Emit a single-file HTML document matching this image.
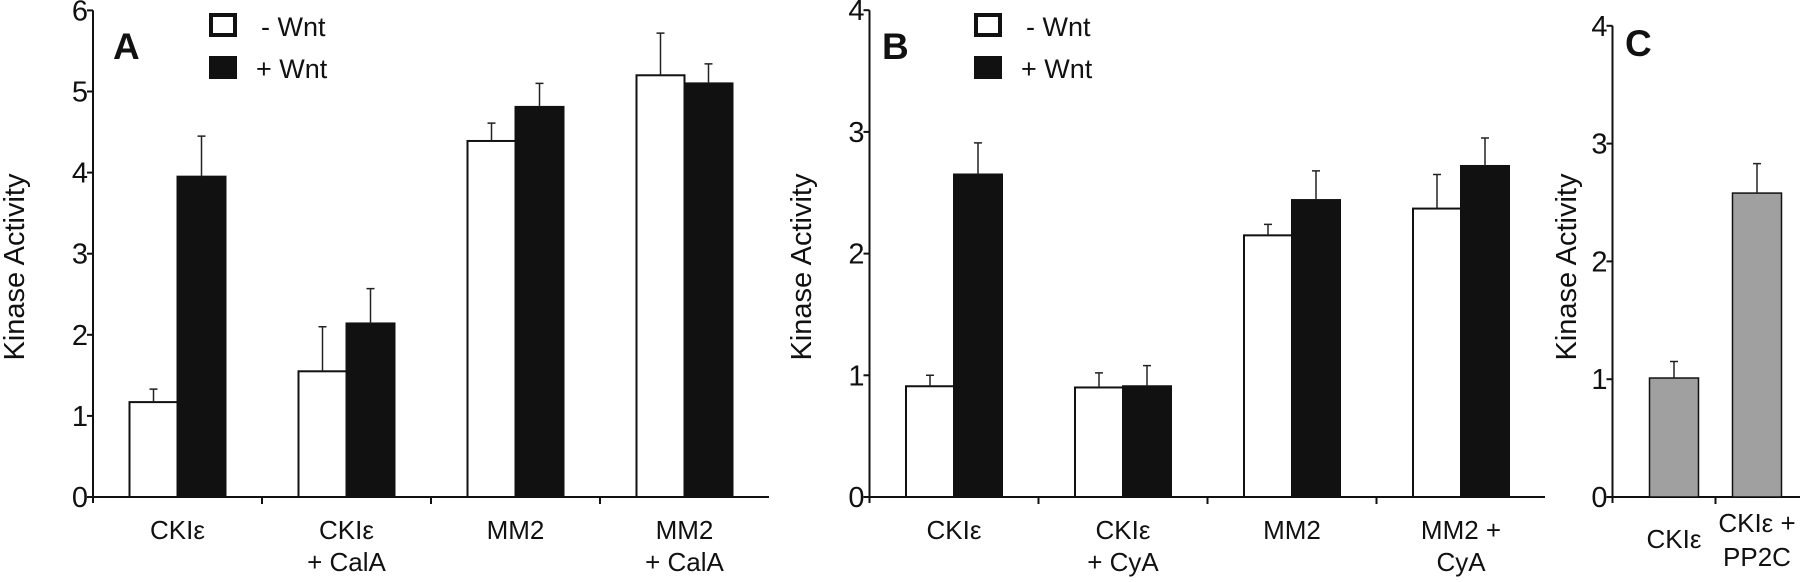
<!DOCTYPE html>
<html><head><meta charset="utf-8"><style>
body{margin:0;background:#fff;}
svg{display:block;font-family:"Liberation Sans",Arial,sans-serif;}
</style></head><body>
<svg id="fig" width="1800" height="582" viewBox="0 0 1800 582"></svg>
<script>
const catsA = ["CKIε|", "CKIε|+ CalA", "MM2|", "MM2|+ CalA"];
const minusA = [1.17, 1.55, 4.39, 5.2];
const minusErrA = [0.16, 0.55, 0.22, 0.52];
const plusA = [3.95, 2.14, 4.81, 5.10];
const plusErrA = [0.50, 0.43, 0.29, 0.24];
const ticksA = [0,1,2,3,4,5,6];

const catsB = ["CKIε|", "CKIε|+ CyA", "MM2|", "MM2 +|CyA"];
const minusB = [0.91, 0.90, 2.15, 2.37];
const minusErrB = [0.09, 0.12, 0.09, 0.28];
const plusB = [2.65, 0.91, 2.44, 2.72];
const plusErrB = [0.26, 0.17, 0.24, 0.23];
const ticksB = [0,1,2,3,4];

const catsC = ["CKIε|", "CKIε +|PP2C"];
const valsC = [1.01, 2.58];
const errC = [0.14, 0.25];
const ticksC = [0,1,2,3,4];

const NS = "http://www.w3.org/2000/svg";
const svg = document.getElementById('fig');
function mk(tag, attrs, parent, text){
  const e = document.createElementNS(NS, tag);
  for (const k in attrs) e.setAttribute(k, attrs[k]);
  if (text !== undefined) e.textContent = text;
  (parent||svg).appendChild(e);
  return e;
}

function panel(o){
  const g = mk('g', {});
  
  
  const y = v => o.y0 - v * o.unit;
  const ya = mk('line', {x1:o.x0, y1:y(o.ticks[o.ticks.length-1]), x2:o.x0, y2:o.y0+6, stroke:'#111','stroke-width':2}, g);
  
  
  o.ticks.forEach(t => {
    mk('line', {x1:o.x0-6, y1:y(t), x2:o.x0, y2:y(t), stroke:'#111','stroke-width':2}, g);
    const tl = mk('text', {x:o.x0-5, y:y(t)+10, 'text-anchor':'end','font-size':29,fill:'#111'}, g, String(t));
    
    
  });
  const xa = mk('line', {x1:o.x0, y1:o.y0, x2:o.xEnd, y2:o.y0, stroke:'#111','stroke-width':2}, g);
  
  
  for (let i=1;i<o.cats.length;i++){
    const tx = o.x0 + o.band*i + (o.tickOff||0);
    mk('line', {x1:tx, y1:o.y0, x2:tx, y2:o.y0+7, stroke:'#111','stroke-width':2}, g);
  }
  const at = mk('text', {x:o.titleX, y:o.y0-230, transform:`rotate(-90 ${o.titleX} ${o.y0-230})`, 'text-anchor':'middle','font-size':29,fill:'#111'}, g, 'Kinase Activity');
  
  
  o.cats.forEach((c, i) => {
    const cx = o.x0 + (o.barStart||0) + o.band*(i+0.5);
    o.series.forEach((s, si) => {
      const bx = o.series.length === 1 ? cx - o.bw/2 : cx - o.bw + si*o.bw;
      const v = s.vals[i];
      const r = mk('rect', {x:bx, y:y(v), width:o.bw, height:o.y0-y(v), fill:s.fill, stroke:'#111','stroke-width':s.sw}, g);
      
      
      const ex = bx + o.bw/2, et = y(v + s.err[i]);
      const eb = mk('path', {d:`M${ex} ${y(v)} V${et} M${ex-4} ${et} H${ex+4}`, stroke:'#222','stroke-width':1.5, fill:'none'}, g);
      
      
    });
    const parts = c.split('|');
    const lx = cx + (o.labelOff||0);
    const ly1 = (!parts[1] && o.singleY) ? o.singleY : o.labY1;
    const l1 = mk('text', {x:lx, y:ly1, 'text-anchor':'middle','font-size':26,fill:'#111'}, g, parts[0]);
    
    
    if (parts[1]) {
      const l2 = mk('text', {x:lx, y:o.labY2, 'text-anchor':'middle','font-size':26,fill:'#111'}, g, parts[1]);
      
      
    }
  });
  const pl = mk('text', {x:o.letterX, y:o.letterY, 'font-size':37,'font-weight':'bold',fill:'#111'}, g, o.letter);
  
  
  if (o.legendX !== undefined) {
    const lg = mk('g', {}, g);
    
    
    mk('rect', {x:o.legendX+2, y:15, width:24, height:20, fill:'#fff', stroke:'#111','stroke-width':4}, lg);
    const t1 = mk('text', {x:o.legendX+52, y:36, 'font-size':27, fill:'#111'}, lg, '- Wnt');
    
    
    mk('rect', {x:o.legendX, y:56, width:28, height:23, fill:'#111'}, lg);
    const t2 = mk('text', {x:o.legendX+47, y:78, 'font-size':27, fill:'#111'}, lg, '+ Wnt');
    
    
  }
}

panel({name:'panel-a', x0:93, xEnd:769, y0:497, unit:81.1, band:169, bw:48, ticks:ticksA, cats:catsA,
  series:[{key:'minus-wnt', vals:minusA, err:minusErrA, fill:'#fff', sw:2},{key:'plus-wnt', vals:plusA, err:plusErrA, fill:'#111', sw:2}],
  titleX:24, labY1:539, labY2:571, letter:'A', letterX:113, letterY:59, legendX:209});
panel({name:'panel-b', x0:869.5, xEnd:1545, y0:497, unit:121.7, band:169, bw:48, ticks:ticksB, cats:catsB,
  series:[{key:'minus-wnt', vals:minusB, err:minusErrB, fill:'#fff', sw:2},{key:'plus-wnt', vals:plusB, err:plusErrB, fill:'#111', sw:2}],
  titleX:811, labY1:539, labY2:571, letter:'B', letterX:882, letterY:59, legendX:974});
panel({name:'panel-c', x0:1612.5, xEnd:1800, y0:497, unit:117.8, band:83, barStart:20, tickOff:20, bw:49, ticks:ticksC, cats:catsC,
  series:[{key:'treatment', vals:valsC, err:errC, fill:'#a0a0a0', sw:1.5}],
  titleX:1576, labY1:532, labY2:566, singleY:548, letter:'C', letterX:1625, letterY:56});
</script>
</body></html>
